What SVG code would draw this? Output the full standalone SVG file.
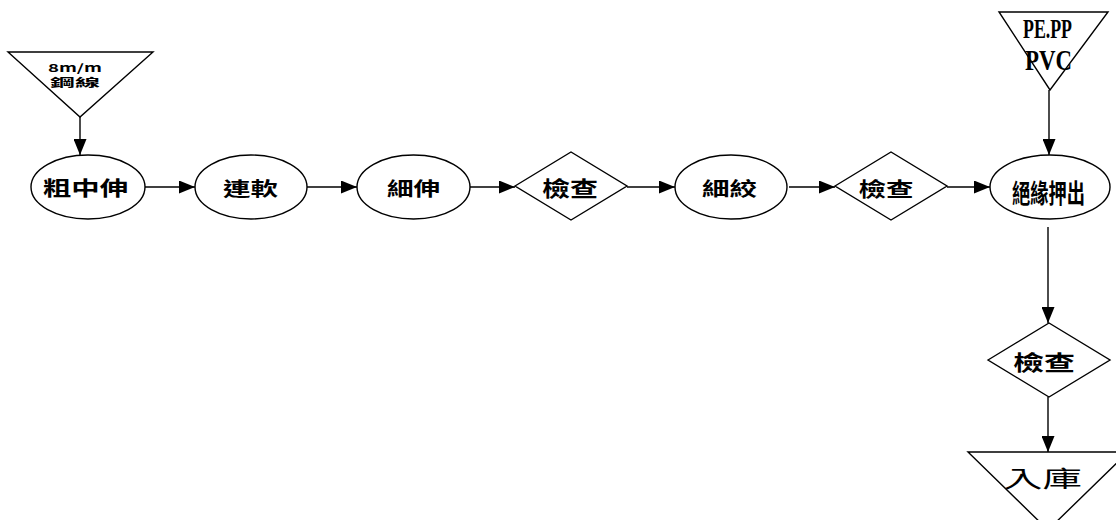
<svg xmlns="http://www.w3.org/2000/svg" width="1116" height="520" viewBox="0 0 1116 520">
<style>
.s{fill:#fff;stroke:#000;stroke-width:1.4}
.c{stroke:#000;stroke-width:1.4;fill:none}
.t{font-family:"Noto Sans CJK TC","Noto Sans CJK SC",sans-serif;font-weight:bold;fill:#000;text-anchor:middle}
.r{font-family:"Liberation Serif",serif;font-weight:bold;fill:#000;text-anchor:middle}
</style>
<defs>
<marker id="a" markerUnits="userSpaceOnUse" markerWidth="16" markerHeight="13" refX="16" refY="6.5" orient="auto">
<path d="M0,0 L16,6.5 L0,13 z" fill="#000"/>
</marker>
</defs>
<rect width="1116" height="520" fill="#fff"/>
<g id="connectors">
<line class="c" x1="80" y1="117" x2="80" y2="155" marker-end="url(#a)"/>
<line class="c" x1="145" y1="187" x2="195" y2="187" marker-end="url(#a)"/>
<line class="c" x1="307" y1="187" x2="357" y2="187" marker-end="url(#a)"/>
<line class="c" x1="470" y1="187" x2="515" y2="187" marker-end="url(#a)"/>
<line class="c" x1="627" y1="187" x2="675" y2="187" marker-end="url(#a)"/>
<line class="c" x1="789" y1="187" x2="835" y2="187" marker-end="url(#a)"/>
<line class="c" x1="947" y1="187" x2="990" y2="187" marker-end="url(#a)"/>
<line class="c" x1="1049" y1="90" x2="1049" y2="155" marker-end="url(#a)"/>
<line class="c" x1="1048" y1="227" x2="1048" y2="323" marker-end="url(#a)"/>
<line class="c" x1="1048" y1="397" x2="1048" y2="452" marker-end="url(#a)"/>
</g>
<g id="n_steel">
<polygon class="s" points="8,52 153,52 80,117"/>
<text class="t" x="75" y="72" font-size="11" textLength="54" lengthAdjust="spacingAndGlyphs">8m/m</text>
<text class="t" x="75" y="87" font-size="11" textLength="50" lengthAdjust="spacingAndGlyphs">鋼線</text>
</g>
<g id="n_cudraw">
<ellipse class="s" cx="88" cy="187" rx="57" ry="32"/>
<text class="t" x="85.5" y="196" font-size="20" textLength="85" lengthAdjust="spacingAndGlyphs">粗中伸</text>
</g>
<g id="n_anneal">
<ellipse class="s" cx="251" cy="187" rx="56" ry="32"/>
<text class="t" x="250.5" y="195.5" font-size="19" textLength="55" lengthAdjust="spacingAndGlyphs">連軟</text>
</g>
<g id="n_finedraw">
<ellipse class="s" cx="413.5" cy="187" rx="56.5" ry="32"/>
<text class="t" x="413.5" y="195.5" font-size="19" textLength="53" lengthAdjust="spacingAndGlyphs">細伸</text>
</g>
<g id="n_check1">
<polygon class="s" points="515,186 571,152 627,186 571,220"/>
<text class="t" x="570" y="196" font-size="21" textLength="56" lengthAdjust="spacingAndGlyphs">檢查</text>
</g>
<g id="n_strand">
<ellipse class="s" cx="731" cy="187" rx="56" ry="32"/>
<text class="t" x="729.5" y="195.5" font-size="19" textLength="55" lengthAdjust="spacingAndGlyphs">細絞</text>
</g>
<g id="n_check2">
<polygon class="s" points="835,186 891,152 947,186 891,220"/>
<text class="t" x="886" y="196.5" font-size="20" textLength="55" lengthAdjust="spacingAndGlyphs">檢查</text>
</g>
<g id="n_resin">
<polygon class="s" points="999,12 1108,12 1050,90"/>
<text class="r" x="1047.5" y="38" font-size="28" textLength="49" lengthAdjust="spacingAndGlyphs">PE.PP</text>
<text class="r" x="1048.5" y="70" font-size="29" textLength="47" lengthAdjust="spacingAndGlyphs">PVC</text>
</g>
<g id="n_extrude">
<ellipse class="s" cx="1050" cy="187" rx="60" ry="32"/>
<text class="t" x="1048.5" y="202.5" font-size="26" textLength="73" lengthAdjust="spacingAndGlyphs">絕緣押出</text>
</g>
<g id="n_check3">
<polygon class="s" points="988,360 1049,323 1110,360 1049,397"/>
<text class="t" x="1044" y="370" font-size="21" textLength="62" lengthAdjust="spacingAndGlyphs">檢查</text>
</g>
<g id="n_store">
<polygon class="s" points="968,452 1128,452 1048,530"/>
<text class="t" x="1042.5" y="487" font-size="23" textLength="79" lengthAdjust="spacingAndGlyphs" style="font-weight:normal">入庫</text>
</g>
</svg>
